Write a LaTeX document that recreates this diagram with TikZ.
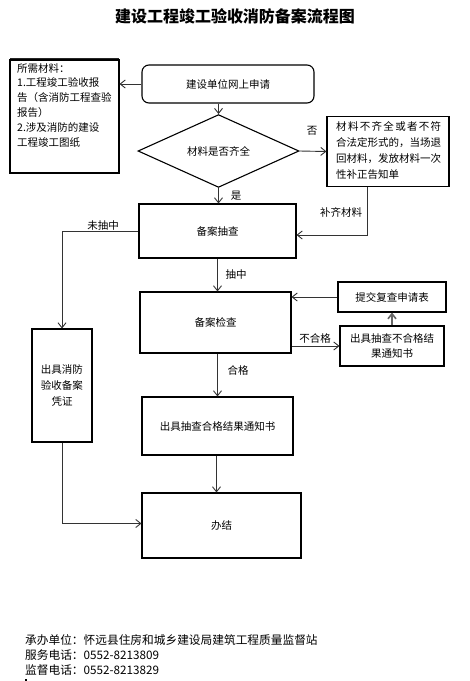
\documentclass[tikz,border=0pt]{standalone}
\usepackage{fontspec}
\setmainfont{Noto Sans CJK SC}
\usetikzlibrary{arrows.meta,shapes.geometric}
\tikzset{
  box/.style={draw=black, line width=1.1pt, inner sep=0pt, font=\fontsize{10.5}{15}\selectfont, align=center},
  arr/.style={line width=0.9pt, draw=black!80, -{Straight Barb[length=5pt,width=8pt]}},
  plain/.style={line width=0.9pt, draw=black!85},
  lbl/.style={font=\fontsize{10.5}{12}\selectfont, inner sep=0pt},
  foot/.style={font=\fontsize{11.7}{14}\selectfont, anchor=west, inner sep=0pt}
}
\begin{document}
\begin{tikzpicture}[x=1pt,y=-1pt]
\useasboundingbox (0,0) rectangle (470,681);
\fill[white] (0,0) rectangle (470,681);

\node[font=\fontsize{16}{18}\selectfont\bfseries] (title) at (235,16) {建设工程竣工验收消防备案流程图};
\draw[plain] (10,58) -- (119,58);

% boxes
\node[box, minimum width=109pt, minimum height=113pt] (mat) at (64.5,116.5) {};
\node[anchor=north west, align=left, inner sep=0pt, font=\fontsize{10.5}{14.8}\selectfont] (mattext) at (17,63)
  {所需材料：\\1.工程竣工验收报\\告（含消防工程查验\\报告）\\2.涉及消防的建设\\工程竣工图纸};

\node[box, rounded corners=7pt, minimum width=172pt, minimum height=38pt] (apply) at (228,84) {建设单位网上申请};
\node[box, diamond, minimum width=161pt, minimum height=58pt] (dia) at (218.5,151) {材料是否齐全};
\node[box, minimum width=122pt, minimum height=70pt] (rej) at (388,151.5) {};
\node[anchor=north west, align=left, inner sep=0pt, font=\fontsize{10.5}{16}\selectfont] (rejtext) at (336,121)
  {\makebox[105pt][s]{材\hfill 料\hfill 不\hfill 齐\hfill 全\hfill 或\hfill 者\hfill 不\hfill 符}\\合法定形式的，当场退\\回材料，发放材料一次\\性补正告知单};

\node[box, minimum width=157pt, minimum height=54pt] (chk) at (217.5,231) {备案抽查};
\node[box, minimum width=151pt, minimum height=61pt] (insp) at (215.5,322.5) {备案检查};
\node[box, minimum width=108pt, minimum height=30pt] (resub) at (392,297) {提交复查申请表};
\node[box, minimum width=104pt, minimum height=40pt] (fail) at (392,346) {出具抽查不合格结\\果通知书};
\node[box, minimum width=60pt, minimum height=113pt, font=\fontsize{10.5}{16}\selectfont] (cert) at (62,385.5) {出具消防\\验收备案\\凭证};
\node[box, minimum width=151pt, minimum height=58pt] (pass) at (217.5,426) {出具抽查合格结果通知书};
\node[box, minimum width=159pt, minimum height=65pt] (end) at (221.5,525.5) {办结};

% connectors
\draw[arr] (apply.west) -- (apply.west -| mat.east);
\draw[arr] (apply.south -| dia.north) -- (dia.north);
\draw[arr] (dia.east) -- (rej.west);
\node[lbl] (no) at (312,131) {否};
\draw[arr] (dia.south) -- (dia.south |- chk.north);
\node[lbl] (yes) at (236,196) {是};
\draw[arr] ([xshift=-21pt]rej.south) |- ([yshift=-4pt]chk.east);
\node[lbl] (supp) at (341,212) {补齐材料};
\draw[arr] (chk.west) -| (cert.north);
\node[lbl] (notsel) at (103,226) {未抽中};
\draw[arr] (chk.south) -- (chk.south |- insp.north);
\node[lbl] (sel) at (236,275) {抽中};
\draw[arr] (resub.west) -- (resub.west -| insp.east);
\draw[arr] (insp.east |- fail.west) -- (fail.west);
\node[lbl] (bad) at (315,338) {不合格};
\draw[arr, line width=1.6pt, draw=black!60] (fail.north) -- (resub.south);
\draw[arr] (insp.south -| pass.north) -- (pass.north);
\node[lbl] (good) at (238,370) {合格};
\draw[arr] ([xshift=-1pt]pass.south) -- ([xshift=-1pt]pass.south |- end.north);
\draw[arr] (cert.south) |- ([yshift=2pt]end.west);

% footer
\node[foot] (f1) at (25,640) {承办单位：怀远县住房和城乡建设局建筑工程质量监督站};
\node[foot] (f2) at (25,655) {服务电话：0552-8213809};
\node[foot] (f3) at (25,670) {监督电话：0552-8213829};
\fill (24.5,678.5) rectangle (26.5,681);
\end{tikzpicture}
\end{document}
